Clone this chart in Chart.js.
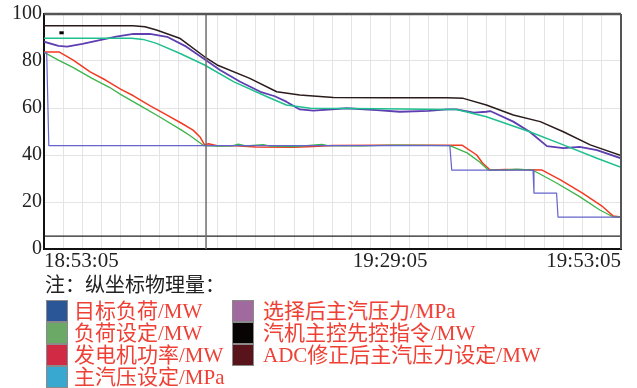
<!DOCTYPE html>
<html><head><meta charset="utf-8">
<script src="https://cdn.jsdelivr.net/npm/chart.js@4.4.1/dist/chart.umd.min.js"></script>
<style>
html,body{margin:0;padding:0;background:#fff;}
#wrap{position:relative;width:637px;height:388px;overflow:hidden;font-family:"Liberation Serif","Noto Sans CJK SC",serif;}
#c{position:absolute;left:0;top:0;}
.note{position:absolute;left:45px;top:273px;font-size:20px;line-height:24px;color:#222;white-space:nowrap;}
.item{position:absolute;height:22px;font-size:21px;line-height:22px;color:#ee4035;white-space:nowrap;}
.sw{position:absolute;left:0;top:0;width:22px;height:22px;border:1px solid #8a8a8a;box-sizing:border-box;}
.tx{position:absolute;top:0;}
</style></head>
<body>
<div id="wrap">
<canvas id="c" width="637" height="275"></canvas>
<div class="note" id="note"></div>
<div id="legend"></div>
</div>
<script>
// ---- data (x = minutes after start time, y = value) ----
const startTime = '18:53:05';
const labeledMinutes = [0, 36, 60];
const noteTitle = '注：纵坐标物理量：';
const seriesNames = ['目标负荷/MW','负荷设定/MW','发电机功率/MW','主汽压设定/MPa','选择后主汽压力/MPa','汽机主控先控指令/MW','ADC修正后主汽压力设定/MW'];
const legendColors = ['#2a5597','#6aaa66','#d02a44','#38a8d0','#a06a9e','#080404','#58141a'];

const targetLoad = [[0,83.5],[0.28,83.5],[0.5,44.0],[42.2,44.0],[42.4,33.6],[50.85,33.6],[50.95,23.8],[53.3,23.8],[53.45,13.6],[60,13.6]];
const loadSetpoint = [[0,83.7],[1.5,80.4],[3.0,77.3],[5,72.6],[6.8,68.8],[8,65.7],[10,61.0],[12,56.3],[14.3,50.6],[15.2,48.2],[16.6,44.0],[18,43.8],[19.6,43.9],[20.2,44.6],[21,43.9],[22.8,44.4],[23.5,43.8],[26,43.6],[28.9,44.5],[29.5,44.0],[33,43.9],[36.5,44.2],[40,44.1],[42.2,44.0],[44.0,40.9],[45.3,37.0],[46.2,33.6],[48,33.7],[49.2,34.0],[50.8,33.6],[53.3,28.1],[55.7,22.3],[57.8,16.6],[59.2,13.6],[60,13.6]];
const genPower = [[0,83.8],[1.6,83.8],[3,80.5],[4.8,75.4],[6.4,71.9],[8,67.9],[9.3,65.2],[11,61.0],[12.7,57.2],[14.3,53.5],[15.5,50.6],[16.2,47.8],[16.7,44.3],[17.1,44.8],[18,43.9],[20,43.9],[22,43.4],[26,43.3],[28,43.6],[30,44.0],[35,44.1],[40,44.2],[43.5,44.1],[45.0,40.0],[45.6,36.6],[46.4,33.6],[48,33.8],[50,33.7],[51.8,33.6],[53.7,29.4],[56.0,23.8],[58.1,18.0],[59.2,14.0],[60,13.6]];
const steamSetpoint = [[0,89.7],[9.1,89.7],[10.3,89.2],[11.7,87.5],[14.1,83.3],[16.7,78.3],[19.7,71.2],[23.2,64.8],[25.2,61.3],[27.7,59.9],[35,59.7],[41.9,59.4],[42.9,59.4],[46.0,56.3],[50.5,49.9],[54.0,44.3],[57.5,38.6],[60,34.8]];
const steamSelected = [[0,88.2],[1.5,86.4],[2.4,86.1],[4,87.3],[5.8,88.9],[7.5,90.4],[9.3,91.5],[11.0,91.5],[12.8,90.3],[14.8,86.1],[16.7,80.7],[18.3,76.2],[20.4,71.2],[22.5,66.9],[24,65.0],[25.2,62.7],[26.6,59.4],[28.0,58.9],[31.5,59.9],[34.6,59.1],[37.0,58.4],[40,58.8],[41.9,59.4],[42.9,59.4],[44.7,58.0],[46.0,58.4],[46.4,58.7],[48.8,54.2],[50.5,49.9],[52.3,43.8],[54.0,42.9],[55.7,43.5],[57.5,42.1],[60,38.6]];
const turbineCmd = [[0,95.0],[9.25,95.0],[10.5,94.6],[11.7,93.2],[14.1,89.7],[16.7,81.8],[18.0,78.3],[21.4,72.6],[24.2,66.9],[26.6,65.5],[30.1,64.5],[36,64.4],[41.9,64.4],[43.6,64.1],[46.0,61.3],[48.8,57.0],[51.6,54.2],[54.0,49.9],[56.8,44.3],[60,39.8]];
const adcSetpoint = [[0,5.5],[60,5.5]];
const cursorLine = [[16.85,0],[16.85,100]];
const marker = [[1.6,92],[2.05,92]];

// ---- chart ----
const toXY = arr => arr.map(p => ({x:p[0], y:p[1]}));
function fmtTime(min){
  const [h,m,s] = startTime.split(':').map(Number);
  let tot = h*3600 + m*60 + s + Math.round(min*60);
  const hh = Math.floor(tot/3600)%24, mm = Math.floor(tot/60)%60, ss = tot%60;
  const p = n => String(n).padStart(2,'0');
  return p(hh)+':'+p(mm)+':'+p(ss);
}
function ds(label, arr, color, width){
  return {label, data: toXY(arr), borderColor: color, borderWidth: width, pointRadius: 0, tension: 0, fill: false, borderJoinStyle: 'round'};
}
const frame = {
  id: 'frame',
  afterDatasetsDraw(chart){
    const {ctx, chartArea:a} = chart;
    ctx.save();
    ctx.strokeStyle = '#555'; ctx.lineWidth = 2.5;
    ctx.beginPath(); ctx.moveTo(a.left, a.top); ctx.lineTo(a.right, a.top); ctx.stroke();
    ctx.lineWidth = 2;
    ctx.beginPath(); ctx.moveTo(a.right, a.top); ctx.lineTo(a.right, a.bottom); ctx.stroke();
    ctx.restore();
  }
};
new Chart(document.getElementById('c'), {
  type: 'line',
  data: { datasets: [
    ds('cursor', cursorLine, '#6e6e6e', 1.5),
    ds(seriesNames[6], adcSetpoint, '#222222', 1.2),
    ds(seriesNames[0], targetLoad, '#6464cc', 1.2),
    ds(seriesNames[1], loadSetpoint, '#3cb44a', 1.3),
    ds(seriesNames[2], genPower, '#f23a22', 1.5),
    ds(seriesNames[3], steamSetpoint, '#1fbf8f', 1.5),
    ds(seriesNames[4], steamSelected, '#5e3eb0', 1.8),
    ds(seriesNames[5], turbineCmd, '#2b1b1b', 1.5),
    Object.assign(ds('marker', marker, '#000', 3), {borderCapStyle:'butt'})
  ]},
  options: {
    responsive: false, animation: false,
    layout: { padding: { top: 14, right: 16, left: 0, bottom: 0 } },
    plugins: { legend: { display: false }, tooltip: { enabled: false } },
    scales: {
      x: {
        type: 'linear', min: 0, max: 60,
        afterFit(s){ s.height = 26; },
        afterBuildTicks(s){ const t=[]; for(let v=0; v<=60; v+=2) t.push({value:v}); s.ticks = t; },
        grid: { color: '#e4e4e4', lineWidth: 1, drawTicks: false },
        border: { color: '#111', width: 2 },
        ticks: {
          autoSkip: false, maxRotation: 0, padding: 0, align: 'inner',
          color: '#222', font: { family: 'Liberation Serif', size: 21 },
          callback: v => labeledMinutes.includes(v) ? fmtTime(v) : ''
        }
      },
      y: {
        min: 0, max: 100,
        afterFit(s){ s.width = 44; },
        afterBuildTicks(s){ const t=[]; for(let v=0; v<=100; v+=10) t.push({value:v}); s.ticks = t; },
        grid: { color: '#e4e4e4', lineWidth: 1, drawTicks: false },
        border: { color: '#111', width: 2 },
        ticks: {
          padding: 2, color: '#222', font: { family: 'Liberation Serif', size: 20 },
          callback: v => (v % 20 === 0) ? String(v) : ''
        }
      }
    }
  },
  plugins: [frame]
});

// ---- legend ----
document.getElementById('note').textContent = noteTitle;
const leg = document.getElementById('legend');
seriesNames.forEach((name, i) => {
  const col = i < 4 ? 0 : 1, row = i < 4 ? i : i - 4;
  const it = document.createElement('div');
  it.className = 'item';
  it.style.left = (col === 0 ? 46 : 232) + 'px';
  it.style.top = (300 + row*22) + 'px';
  const sw = document.createElement('div'); sw.className = 'sw'; sw.style.background = legendColors[i];
  const tx = document.createElement('div'); tx.className = 'tx'; tx.style.left = (col === 0 ? 28 : 31) + 'px'; tx.textContent = name;
  it.appendChild(sw); it.appendChild(tx); leg.appendChild(it);
});
</script>
</body></html>
